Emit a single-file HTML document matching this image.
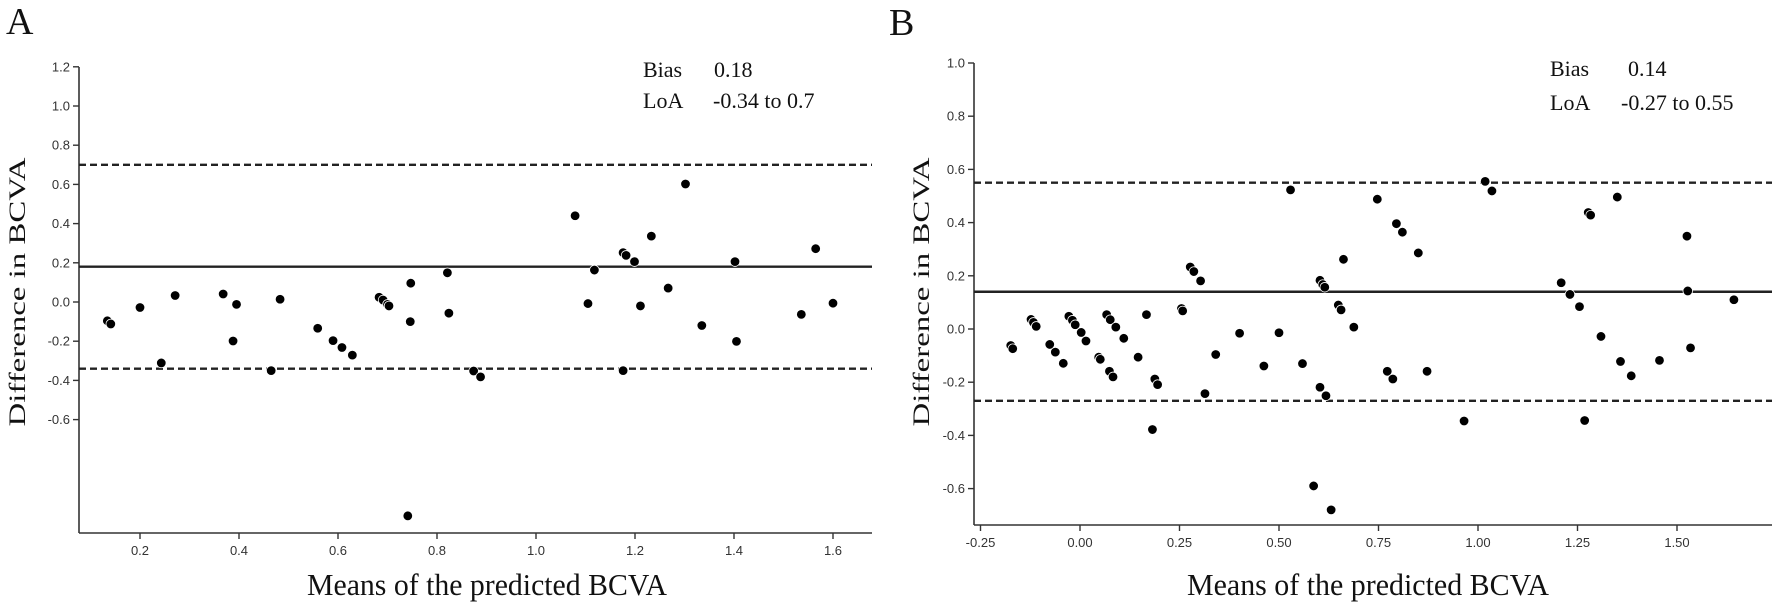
<!DOCTYPE html>
<html><head><meta charset="utf-8"><style>
html,body{margin:0;padding:0;background:#fff;}
svg{display:block;}
.tk{font-family:"Liberation Sans",sans-serif;font-size:13px;fill:#333;}
.tt{font-family:"Liberation Serif",serif;fill:#111;}
.st{font-family:"Liberation Serif",serif;font-size:22px;fill:#111;}
.pl{font-family:"Liberation Serif",serif;font-size:38px;fill:#111;}
</style></head><body>
<svg id="chart" width="1772" height="605" viewBox="0 0 1772 605" xmlns="http://www.w3.org/2000/svg">
<text class="pl" x="6" y="34">A</text>
<text class="pl" x="889" y="35">B</text>
<text class="st" x="643" y="77">Bias<tspan x="714">0.18</tspan></text>
<text class="st" x="643" y="108">LoA<tspan x="713">-0.34 to 0.7</tspan></text>
<text class="st" x="1550" y="76">Bias<tspan x="1628">0.14</tspan></text>
<text class="st" x="1550" y="110">LoA<tspan x="1621">-0.27 to 0.55</tspan></text>
<text class="tt" font-size="23" textLength="269" lengthAdjust="spacingAndGlyphs" transform="translate(25,292) rotate(-90)" text-anchor="middle">Difference in BCVA</text>
<text class="tt" font-size="23" textLength="269" lengthAdjust="spacingAndGlyphs" transform="translate(929,292) rotate(-90)" text-anchor="middle">Difference in BCVA</text>
<text class="tt" font-size="31" textLength="360" lengthAdjust="spacingAndGlyphs" x="487" y="595" text-anchor="middle">Means of the predicted BCVA</text>
<text class="tt" font-size="31" textLength="362" lengthAdjust="spacingAndGlyphs" x="1368" y="595" text-anchor="middle">Means of the predicted BCVA</text>
<g id="ga"></g><g id="gb"></g>
</svg>
<script>
// Panel A data
const aX = [0.134,0.141,0.2,0.243,0.271,0.368,0.395,0.388,0.465,0.483,0.559,0.590,0.608,0.629,0.683,0.691,0.700,0.703,0.741,0.747,0.746,0.821,0.824,0.874,0.888,1.079,1.105,1.118,1.176,1.182,1.199,1.176,1.211,1.233,1.267,1.302,1.335,1.402,1.405,1.536,1.565,1.600];
const aY = [-0.096,-0.112,-0.028,-0.311,0.033,0.041,-0.012,-0.199,-0.350,0.014,-0.134,-0.197,-0.232,-0.271,0.024,0.010,-0.012,-0.020,-1.091,0.096,-0.100,0.149,-0.057,-0.352,-0.382,0.440,-0.008,0.163,0.252,0.238,0.206,-0.350,-0.020,0.336,0.071,0.602,-0.120,0.206,-0.201,-0.063,0.272,-0.006];
const aXTicks = [0.2,0.4,0.6,0.8,1.0,1.2,1.4,1.6];
const aXTickLabels = ["0.2","0.4","0.6","0.8","1.0","1.2","1.4","1.6"];
const aYTicks = [1.2,1.0,0.8,0.6,0.4,0.2,0.0,-0.2,-0.4,-0.6];
const aYTickLabels = ["1.2","1.0","0.8","0.6","0.4","0.2","0.0","-0.2","-0.4","-0.6"];
const aBias = 0.18;
const aLoA = [-0.34, 0.70];
// Panel B data
const bX = [-0.174,-0.169,-0.123,-0.117,-0.110,-0.076,-0.062,-0.042,-0.028,-0.019,-0.012,0.003,0.015,0.047,0.051,0.067,0.076,0.090,0.074,0.083,0.110,0.146,0.167,0.188,0.195,0.182,0.255,0.258,0.277,0.286,0.303,0.314,0.341,0.401,0.462,0.500,0.529,0.559,0.603,0.610,0.615,0.603,0.618,0.587,0.631,0.649,0.656,0.662,0.688,0.747,0.772,0.786,0.795,0.810,0.850,0.872,0.965,1.018,1.035,1.209,1.231,1.255,1.268,1.277,1.283,1.309,1.350,1.358,1.385,1.456,1.525,1.527,1.534,1.643];
const bY = [-0.062,-0.074,0.036,0.025,0.010,-0.058,-0.087,-0.129,0.048,0.033,0.016,-0.013,-0.045,-0.106,-0.114,0.054,0.035,0.007,-0.159,-0.180,-0.035,-0.106,0.054,-0.188,-0.209,-0.378,0.077,0.068,0.233,0.216,0.181,-0.243,-0.096,-0.016,-0.139,-0.014,0.523,-0.130,0.183,0.167,0.157,-0.219,-0.251,-0.590,-0.680,0.090,0.072,0.262,0.007,0.488,-0.159,-0.188,0.396,0.364,0.286,-0.159,-0.346,0.555,0.519,0.174,0.130,0.084,-0.344,0.438,0.428,-0.028,0.496,-0.122,-0.176,-0.118,0.349,0.143,-0.071,0.110];
const bXTicks = [-0.25,0.0,0.25,0.5,0.75,1.0,1.25,1.5];
const bXTickLabels = ["-0.25","0.00","0.25","0.50","0.75","1.00","1.25","1.50"];
const bYTicks = [1.0,0.8,0.6,0.4,0.2,0.0,-0.2,-0.4,-0.6];
const bYTickLabels = ["1.0","0.8","0.6","0.4","0.2","0.0","-0.2","-0.4","-0.6"];
const bBias = 0.14;
const bLoA = [-0.27, 0.55];

const NS = "http://www.w3.org/2000/svg";
function mk(parent, tag, attrs){const e=document.createElementNS(NS,tag);for(const k in attrs)e.setAttribute(k,attrs[k]);parent.appendChild(e);return e;}

function panel(gid, p, xs, ys, xt, xtl, yt, ytl, bias, loa){
  const g=document.getElementById(gid);
  const sx=v=>p.x0+(v-p.xv0)*p.kx;
  const sy=v=>p.y0-v*p.ky;
  let e=mk(g,'line',{x1:p.left,y1:p.top,x2:p.left,y2:p.bottom,stroke:'#333','stroke-width':1.6});
  
  
  e=mk(g,'line',{x1:p.left,y1:p.bottom,x2:p.right,y2:p.bottom,stroke:'#333','stroke-width':1.6});
  
  
  yt.forEach((v,i)=>{
    const y=sy(v);
    let t=mk(g,'line',{x1:p.left-6,y1:y,x2:p.left,y2:y,stroke:'#333','stroke-width':1.4});
    
    
    let l=mk(g,'text',{x:p.left-9,y:y+4.5,'text-anchor':'end',class:'tk'});
    l.textContent=ytl[i];
    
    
  });
  xt.forEach((v,i)=>{
    const x=sx(v);
    let t=mk(g,'line',{x1:x,y1:p.bottom,x2:x,y2:p.bottom+6,stroke:'#333','stroke-width':1.4});
    
    
    let l=mk(g,'text',{x:x,y:p.bottom+22,'text-anchor':'middle',class:'tk'});
    l.textContent=xtl[i];
    
    
  });
  let bl=mk(g,'line',{x1:p.left,y1:sy(bias),x2:p.right,y2:sy(bias),stroke:'#222','stroke-width':2.4});
  
  
  loa.forEach((v,i)=>{
    let d=mk(g,'line',{x1:p.left,y1:sy(v),x2:p.right,y2:sy(v),stroke:'#222','stroke-width':2.4,'stroke-dasharray':'7 4'});
    
    
  });
  xs.forEach((v,i)=>{
    let c=mk(g,'circle',{cx:sx(v),cy:sy(ys[i]),r:4.8,fill:'#000',stroke:'#fff','stroke-width':0.8});
    
    
  });
}
panel('ga',{id:'panel-a',left:79,right:872,top:67,bottom:533,x0:140,xv0:0.2,kx:495,y0:302,ky:196},aX,aY,aXTicks,aXTickLabels,aYTicks,aYTickLabels,aBias,aLoA);
panel('gb',{id:'panel-b',left:974,right:1772,top:63,bottom:525,x0:1080,xv0:0,kx:398,y0:329,ky:266},bX,bY,bXTicks,bXTickLabels,bYTicks,bYTickLabels,bBias,bLoA);
</script>
</body></html>
